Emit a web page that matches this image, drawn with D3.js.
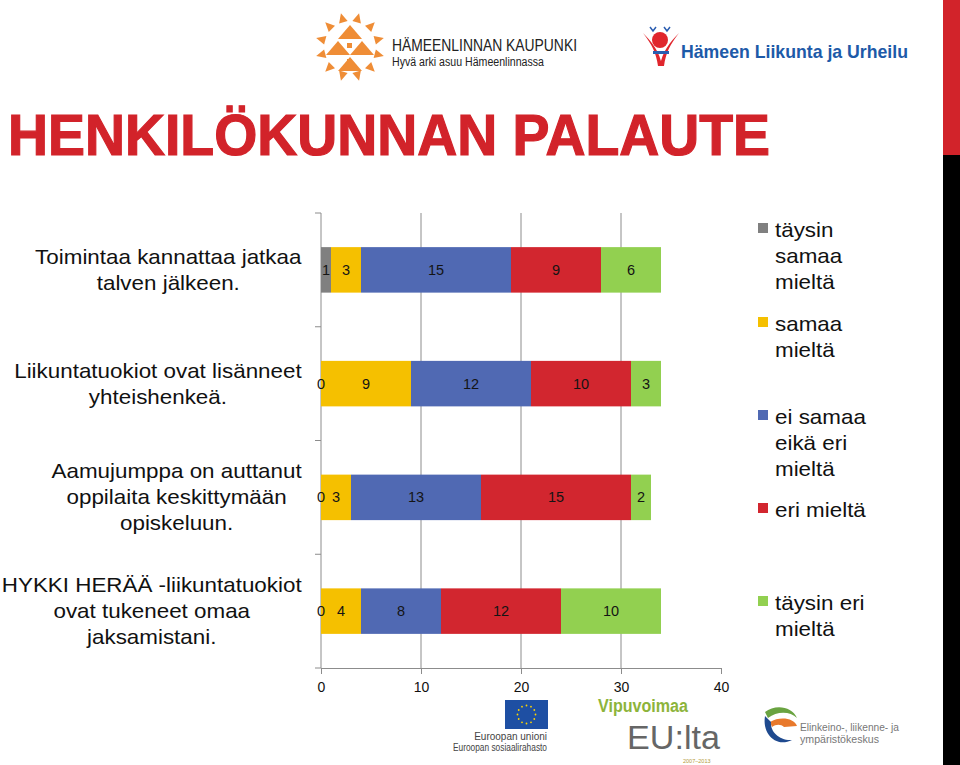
<!DOCTYPE html>
<html>
<head>
<meta charset="utf-8">
<script src="https://cdn.jsdelivr.net/npm/d3@7"></script>
<style>
  html, body { margin: 0; padding: 0; background: #fff; }
  svg { display: block; }
  text { font-family: "Liberation Sans", Arial, Helvetica, sans-serif; }
</style>
</head>
<body>
<svg id="chart" width="960" height="765"></svg>
<script>
// ---------------- DATA ----------------
const categories = [
  ["Toimintaa kannattaa jatkaa", "talven jälkeen."],
  ["Liikuntatuokiot ovat lisänneet", "yhteishenkeä."],
  ["Aamujumppa on auttanut", "oppilaita keskittymään", "opiskeluun."],
  ["HYKKI HERÄÄ -liikuntatuokiot", "ovat tukeneet omaa", "jaksamistani."]
];
const seriesNames = [
  ["täysin", "samaa", "mieltä"],
  ["samaa", "mieltä"],
  ["ei samaa", "eikä eri", "mieltä"],
  ["eri mieltä"],
  ["täysin eri", "mieltä"]
];
const taysinSamaa = [1, 0, 0, 0];
const samaa       = [3, 9, 3, 4];
const eiSamaaEikaEri = [15, 12, 13, 8];
const eri         = [9, 10, 15, 12];
const taysinEri   = [6, 3, 2, 10];
const xTicks = [0, 10, 20, 30, 40];
const seriesColors = ["#808080", "#f5c000", "#5069b3", "#d2262f", "#92d050"];

const seriesValues = [taysinSamaa, samaa, eiSamaaEikaEri, eri, taysinEri];
const keys = ["s0", "s1", "s2", "s3", "s4"];
const rows = categories.map((c, i) => {
  const r = { idx: i };
  keys.forEach((k, j) => r[k] = seriesValues[j][i]);
  return r;
});

// ---------------- SETUP ----------------
const svg = d3.select("#chart");

const x = d3.scaleLinear().domain([0, 40]).range([321, 721]);
const y = d3.scaleBand().domain(d3.range(categories.length)).range([213, 668])
  .paddingInner(0.6).paddingOuter(0.3);

// ---------------- DECORATION: right band ----------------
svg.append("rect").attr("x", 943).attr("y", 0).attr("width", 17).attr("height", 155).attr("fill", "#d2232a");
svg.append("rect").attr("x", 943).attr("y", 155).attr("width", 17).attr("height", 610).attr("fill", "#000");

// ---------------- LOGOS (top) ----------------
const sun = svg.append("g").attr("transform", "translate(350,47)").attr("fill", "#ef8d36");
d3.range(12).forEach(i => {
  const a = (i / 12) * 2 * Math.PI + Math.PI / 12;
  const r1 = 26, r2 = 35, w = 0.17;
  const p = [
    [Math.cos(a - w) * r1, Math.sin(a - w) * r1],
    [Math.cos(a + w) * r1, Math.sin(a + w) * r1],
    [Math.cos(a) * r2, Math.sin(a) * r2]
  ];
  sun.append("path").attr("d", "M" + p.join("L") + "Z");
});
[[0,-22,12,-8,-12,-8],[-12,-6,0,8,-24,8],[12,-6,24,8,0,8],[0,10,12,24,-12,24]].forEach(t=>{
  sun.append("path").attr("d", `M${t[0]},${t[1]}L${t[2]},${t[3]}L${t[4]},${t[5]}Z`);
});
[[-3,-4],[-3,12],[-15,2],[9,2]].forEach(s=>{
  sun.append("rect").attr("x", s[0]).attr("y", s[1]).attr("width", 5).attr("height", 5);
});
svg.append("text").attr("x", 392).attr("y", 51).attr("font-size", 17).attr("fill", "#222")
  .attr("textLength", 185).attr("lengthAdjust", "spacingAndGlyphs").text("HÄMEENLINNAN KAUPUNKI");
svg.append("text").attr("x", 392).attr("y", 66).attr("font-size", 12.5).attr("fill", "#222")
  .attr("textLength", 152).attr("lengthAdjust", "spacingAndGlyphs").text("Hyvä arki asuu Hämeenlinnassa");

// Hämeen Liikunta ja Urheilu logo
const hl = svg.append("g");
hl.append("circle").attr("cx", 660).attr("cy", 40).attr("r", 8).attr("fill", "#e0262d");
hl.append("path").attr("d", "M643,33 C652,45 656,52 658,66 L662,66 C660,52 652,42 643,33Z").attr("fill", "#e0262d");
hl.append("path").attr("d", "M679,33 C670,45 666,52 664,66 L660,66 C662,52 670,42 679,33Z").attr("fill", "#e0262d");
hl.append("rect").attr("x", 653).attr("y", 51).attr("width", 16).attr("height", 3).attr("fill", "#2a5db0");
hl.append("path").attr("d", "M650,27 l3,4 l3,-4 M664,27 l3,4 l3,-4").attr("stroke", "#2a5db0").attr("stroke-width", 1.5).attr("fill", "none");
svg.append("text").attr("x", 681).attr("y", 58).attr("font-size", 19).attr("font-weight", "bold")
  .attr("fill", "#1d5aa8").attr("textLength", 227).attr("lengthAdjust", "spacingAndGlyphs")
  .text("Hämeen Liikunta ja Urheilu");

// ---------------- TITLE ----------------
svg.append("text").attr("x", 8).attr("y", 155).attr("font-size", 58).attr("font-weight", "bold")
  .attr("fill", "#d2232a").attr("stroke", "#d2232a").attr("stroke-width", 1.2)
  .attr("textLength", 762).attr("lengthAdjust", "spacingAndGlyphs")
  .text("HENKILÖKUNNAN PALAUTE");

// ---------------- GRID & AXES ----------------
const plotTop = y.range()[0], plotBottom = y.range()[1];
svg.append("g").selectAll("line").data(xTicks.filter(t => t > 0 && t < 40)).join("line")
  .attr("x1", d => x(d)).attr("x2", d => x(d))
  .attr("y1", plotTop).attr("y2", plotBottom)
  .attr("stroke", "#8c8c8c").attr("stroke-width", 1);

const xAxis = svg.append("g").attr("transform", `translate(0,${plotBottom})`)
  .call(d3.axisBottom(x).tickValues(xTicks).tickSize(6).tickPadding(8).tickFormat(d3.format("d")));
xAxis.select(".domain").attr("stroke", "#8c8c8c");
xAxis.selectAll(".tick line").attr("stroke", "#8c8c8c");
xAxis.selectAll(".tick text").attr("font-size", 14).attr("fill", "#111")
  .attr("font-family", "Liberation Sans, Arial, sans-serif");

svg.append("line").attr("x1", x(0)).attr("x2", x(0)).attr("y1", plotTop).attr("y2", plotBottom)
  .attr("stroke", "#8c8c8c");
svg.append("g").selectAll("line").data(d3.range(categories.length + 1)).join("line")
  .attr("x1", x(0) - 6).attr("x2", x(0))
  .attr("y1", i => plotTop + i * y.step()).attr("y2", i => plotTop + i * y.step())
  .attr("stroke", "#8c8c8c");

// ---------------- BARS ----------------
const stacked = d3.stack().keys(keys)(rows);
const gBars = svg.append("g");
stacked.forEach((s, si) => {
  gBars.append("g").attr("fill", seriesColors[si]).selectAll("rect").data(s).join("rect")
    .attr("x", d => x(d[0])).attr("width", d => x(d[1]) - x(d[0]))
    .attr("y", d => y(d.data.idx)).attr("height", y.bandwidth());
});
const gLabels = svg.append("g");
stacked.forEach((s, si) => {
  gLabels.append("g").selectAll("text").data(s).join("text")
    .attr("x", d => (x(d[0]) + x(d[1])) / 2)
    .attr("y", d => y(d.data.idx) + y.bandwidth() / 2 + 5)
    .attr("text-anchor", "middle").attr("font-size", 14.5).attr("fill", "#141414")
    .text(d => d[1] - d[0]);
});

// ---------------- CATEGORY LABELS ----------------
const lineH = 26, stretch = 1.12;
categories.forEach((lines, i) => {
  const cy = y(i) + y.bandwidth() / 2;
  const g = svg.append("g");
  const t = g.append("text").attr("font-size", 20).attr("fill", "#111").attr("text-anchor", "middle");
  lines.forEach((ln, j) => {
    t.append("tspan").attr("x", 0).attr("y", (j - (lines.length - 1) / 2) * lineH + 7).text(ln);
  });
  const w = t.node().getBBox().width * stretch;
  g.attr("transform", `translate(${302 - w / 2},${cy}) scale(${stretch},1)`);
});

// ---------------- LEGEND ----------------
const legendY = [228, 322, 415, 508, 601];
seriesNames.forEach((lines, i) => {
  const cy = legendY[i];
  svg.append("rect").attr("x", 758).attr("y", cy - 5).attr("width", 10).attr("height", 10)
    .attr("fill", seriesColors[i]);
  const g = svg.append("g").attr("transform", `translate(775,${cy}) scale(${stretch},1)`);
  const t = g.append("text").attr("font-size", 20).attr("fill", "#111");
  lines.forEach((ln, j) => t.append("tspan").attr("x", 0).attr("y", 9 + j * lineH).text(ln));
});

// ---------------- LOGOS (bottom) ----------------
svg.append("rect").attr("x", 505).attr("y", 700).attr("width", 43).attr("height", 29).attr("fill", "#1e4fa3");
d3.range(12).forEach(i => {
  const a = i / 12 * 2 * Math.PI;
  svg.append("circle").attr("cx", 526.5 + Math.cos(a) * 9).attr("cy", 714.5 + Math.sin(a) * 9)
    .attr("r", 0.9).attr("fill", "#ffd500");
});
svg.append("text").attr("x", 547).attr("y", 740).attr("text-anchor", "end").attr("font-size", 10)
  .attr("fill", "#444").text("Euroopan unioni");
svg.append("text").attr("x", 547).attr("y", 751).attr("text-anchor", "end").attr("font-size", 10)
  .attr("fill", "#444")
  .attr("textLength", 94).attr("lengthAdjust", "spacingAndGlyphs").text("Euroopan sosiaalirahasto");

svg.append("text").attr("x", 598).attr("y", 712).attr("font-size", 18).attr("font-weight", "bold")
  .attr("fill", "#8db43b").attr("textLength", 90).attr("lengthAdjust", "spacingAndGlyphs").text("Vipuvoimaa");
svg.append("text").attr("x", 627).attr("y", 749).attr("font-size", 34).attr("font-weight", "300")
  .attr("fill", "#666").attr("textLength", 93).attr("lengthAdjust", "spacingAndGlyphs").text("EU:lta");
svg.append("text").attr("x", 683).attr("y", 763).attr("font-size", 5.5).attr("fill", "#b59a3a")
  .text("2007–2013");

const ely = svg.append("g");
ely.append("path").attr("d", "M765,712 C775,704 792,706 797,718 C790,711 777,711 768,718 Z").attr("fill", "#6aa341");
ely.append("path").attr("d", "M770,722 C780,716 794,718 797,726 L784,727 C781,724 776,724 772,727 Z").attr("fill", "#e8792c");
ely.append("path").attr("d", "M765,716 C762,734 776,748 792,740 C780,741 770,732 771,722 Z").attr("fill", "#1f4a8f");
svg.append("text").attr("x", 800).attr("y", 731).attr("font-size", 11).attr("fill", "#777")
  .attr("textLength", 99).attr("lengthAdjust", "spacingAndGlyphs").text("Elinkeino-, liikenne- ja");
svg.append("text").attr("x", 800).attr("y", 743).attr("font-size", 11).attr("fill", "#777")
  .attr("textLength", 79).attr("lengthAdjust", "spacingAndGlyphs").text("ympäristökeskus");
</script>
</body>
</html>
